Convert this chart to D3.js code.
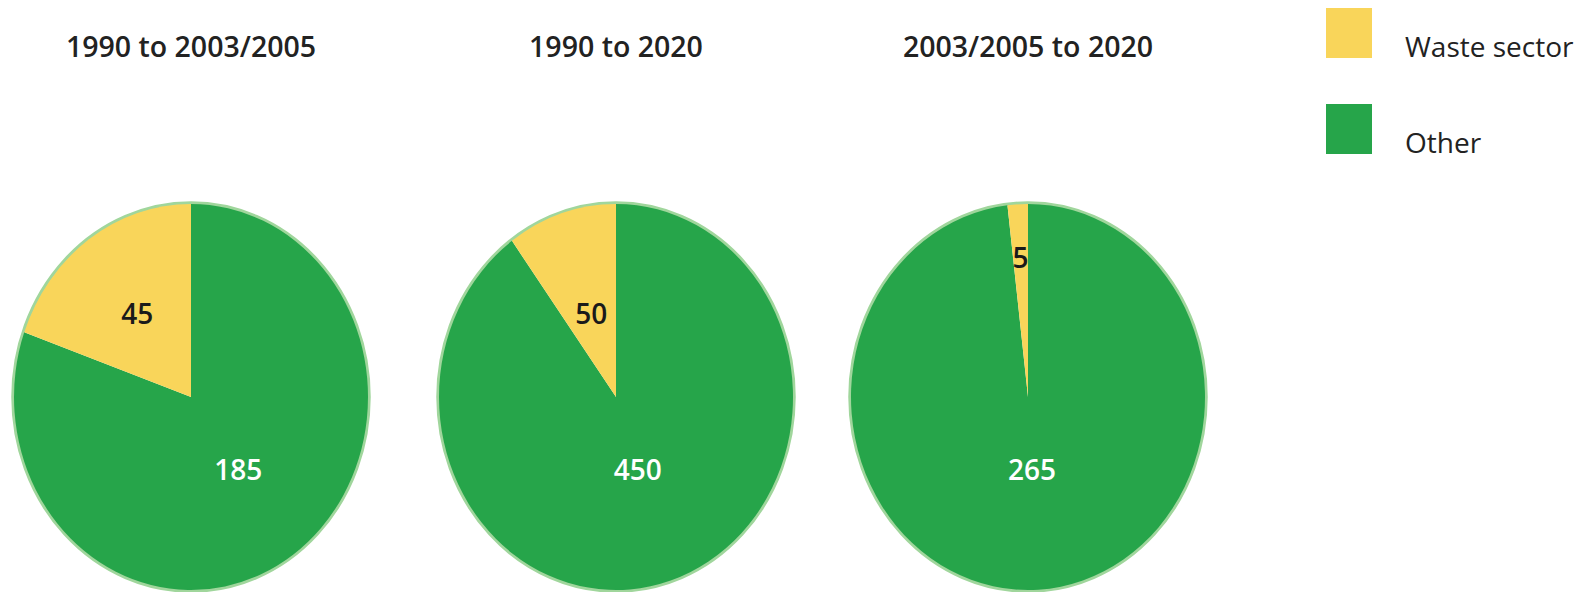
<!DOCTYPE html>
<html>
<head>
<meta charset="utf-8">
<script src="https://cdn.jsdelivr.net/npm/d3@7"></script>
<style>
  body { margin: 0; background: #fff; }
  svg { display: block; font-family: "Open Sans", "Noto Sans", sans-serif; }
</style>
</head>
<body>
<div id="chart"></div>
<script>
// data
var periods = ["1990 to 2003/2005", "1990 to 2020", "2003/2005 to 2020"];
var sectors = ["Waste sector", "Other"];
var wasteValues = [45, 50, 5];
var otherValues = [185, 450, 265];

var width = 1585, height = 592;
var colors = { "Waste sector": "#f9d55a", "Other": "#26a54a" };

var svg = d3.select("#chart").append("svg")
    .attr("width", width)
    .attr("height", height);

// pies are drawn as slightly squashed ellipses
var ry = 193, rx = 177, cy = 397;
var x = d3.scaleOrdinal().domain(periods).range([191, 616, 1028]);

var pie = d3.pie().sort(null).value(function(d) { return d.value; });
var arc = d3.arc().innerRadius(0).outerRadius(ry);

periods.forEach(function(p, i) {
    var rows = [
        { sector: "Other", value: otherValues[i] },
        { sector: "Waste sector", value: wasteValues[i] }
    ];
    var cx = x(p);

    svg.append("text")
        .attr("x", cx)
        .attr("y", 57)
        .attr("text-anchor", "middle")
        .style("font-size", "28.5px")
        .style("font-weight", 600)
        .style("fill", "#222")
        .text(p);

    svg.append("ellipse")
        .attr("cx", cx).attr("cy", cy)
        .attr("rx", rx + 1).attr("ry", ry + 1)
        .style("fill", "none")
        .style("stroke", "#a0d69c")
        .style("stroke-width", 3.5);

    var g = svg.append("g")
        .attr("transform", "translate(" + cx + "," + cy + ") scale(" + (rx / ry) + ",1)");

    var arcs = pie(rows);
    g.selectAll("path")
        .data(arcs)
        .enter().append("path")
        .attr("d", arc)
        .style("fill", function(d) { return colors[d.data.sector]; });

    // labels sit on the slice's middle direction at a set height above/below centre
    arcs.forEach(function(d) {
        var span = d.endAngle - d.startAngle;
        var off = d.data.sector == "Other" ? 73 : (span < 0.3 ? -139 : -83);
        var a = (d.startAngle + d.endAngle) / 2;
        var t = off / (-Math.cos(a) * ry);
        var lx = cx + Math.sin(a) * rx * t;
        var ly = cy + off;
        svg.append("text")
            .attr("x", lx)
            .attr("y", ly)
            .attr("dy", "0.36em")
            .attr("text-anchor", "middle")
            .style("font-size", "28px")
            .style("font-weight", 600)
            .style("fill", d.data.sector == "Other" ? "#fff" : "#1a1a1a")
            .text(d.data.value);
    });
});

// legend
var legend = svg.selectAll(".legend")
    .data(sectors)
    .enter().append("g")
    .attr("class", "legend")
    .attr("transform", function(d, i) { return "translate(1326," + (8 + i * 96) + ")"; });

legend.append("rect")
    .attr("width", 46)
    .attr("height", 50)
    .style("fill", function(d) { return colors[d]; });

legend.append("text")
    .attr("x", 79)
    .attr("y", 49)
    .style("font-size", "28px")
    .style("fill", "#222")
    .text(function(d) { return d; });
</script>
</body>
</html>
